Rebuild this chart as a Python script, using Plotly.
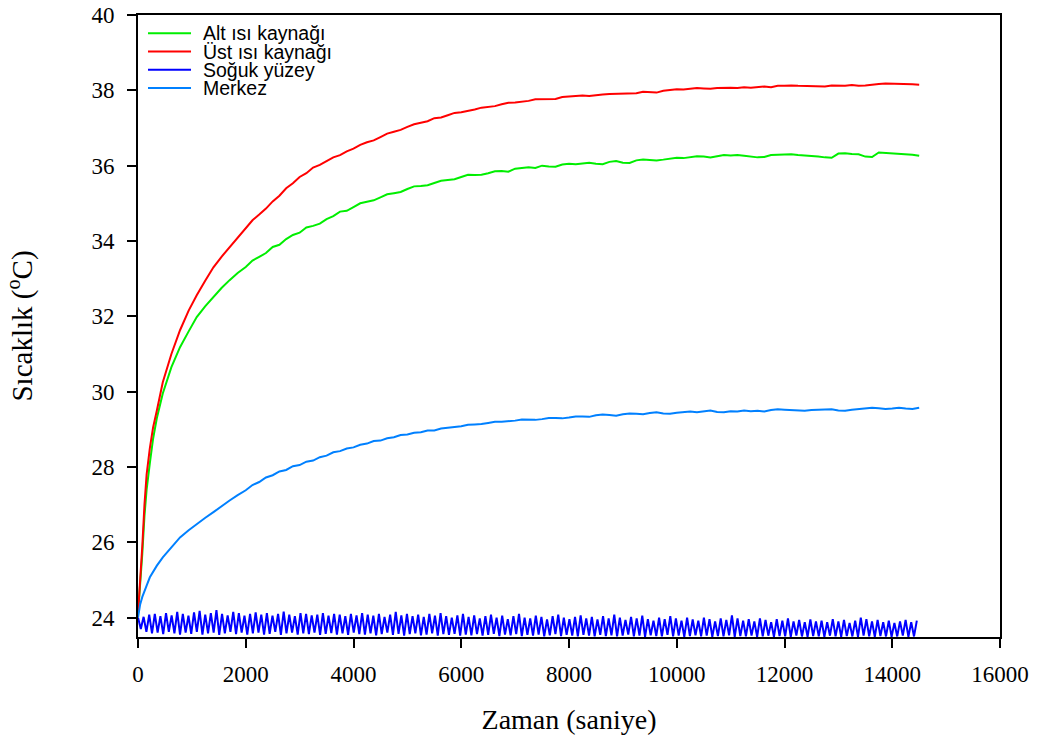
import plotly.graph_objects as go

# ---------------- data ----------------
time_main = [0, 40, 80, 120, 160, 220, 280, 350, 460, 620, 780, 940, 1090, 1250,
             1400, 1550, 1700, 1850, 2000] + list(range(2125, 14501, 125))

alt_isi = [24.10, 24.80, 25.70, 26.70, 27.40, 28.10, 28.75, 29.30, 29.95, 30.65,
           31.18, 31.60, 31.98, 32.27, 32.51, 32.75, 32.96, 33.15, 33.31,
           33.48, 33.58, 33.68, 33.84, 33.90, 34.05, 34.16, 34.22,
           34.36, 34.40, 34.46, 34.58, 34.66, 34.78, 34.80, 34.90,
           35.00, 35.04, 35.08, 35.16, 35.24, 35.27, 35.30, 35.38,
           35.45, 35.46, 35.48, 35.54, 35.60, 35.62, 35.64, 35.70,
           35.76, 35.75, 35.76, 35.80, 35.85, 35.86, 35.84, 35.92,
           35.95, 35.96, 35.94, 36.00, 35.98, 35.97, 36.03, 36.05,
           36.04, 36.07, 36.08, 36.05, 36.04, 36.10, 36.12, 36.08,
           36.07, 36.14, 36.16, 36.15, 36.14, 36.16, 36.18, 36.21,
           36.20, 36.23, 36.25, 36.24, 36.22, 36.25, 36.28, 36.27,
           36.28, 36.26, 36.24, 36.22, 36.23, 36.28, 36.29, 36.29,
           36.30, 36.28, 36.27, 36.26, 36.24, 36.22, 36.21, 36.32,
           36.33, 36.31, 36.30, 36.24, 36.23, 36.35, 36.34, 36.33,
           36.33, 36.32, 36.29, 36.26]

ust_isi = [24.10, 24.90, 25.90, 27.00, 27.80, 28.50, 29.05, 29.50, 30.25, 31.00,
           31.63, 32.15, 32.56, 32.95, 33.30, 33.58, 33.84, 34.10, 34.33,
           34.55, 34.70, 34.86, 35.05, 35.20, 35.40, 35.53, 35.70,
           35.80, 35.95, 36.02, 36.12, 36.22, 36.28, 36.38, 36.45,
           36.55, 36.62, 36.67, 36.76, 36.85, 36.90, 36.95, 37.03,
           37.10, 37.14, 37.18, 37.26, 37.28, 37.34, 37.40, 37.42,
           37.45, 37.49, 37.54, 37.56, 37.58, 37.63, 37.67, 37.68,
           37.69, 37.72, 37.76, 37.76, 37.75, 37.77, 37.82, 37.84,
           37.84, 37.86, 37.85, 37.88, 37.89, 37.90, 37.90, 37.92,
           37.91, 37.92, 37.96, 37.95, 37.94, 37.99, 38.02, 38.03,
           38.02, 38.05, 38.06, 38.05, 38.04, 38.06, 38.07, 38.07,
           38.06, 38.08, 38.07, 38.09, 38.10, 38.08, 38.12, 38.12,
           38.13, 38.12, 38.11, 38.11, 38.09, 38.10, 38.13, 38.13,
           38.12, 38.14, 38.12, 38.13, 38.16, 38.17, 38.18, 38.18,
           38.16, 38.17, 38.16, 38.15]

merkez = [24.00, 24.35, 24.55, 24.72, 24.85, 25.07, 25.22, 25.38, 25.60, 25.88,
          26.13, 26.32, 26.49, 26.65, 26.80, 26.96, 27.11, 27.25, 27.38,
          27.52, 27.60, 27.72, 27.78, 27.88, 27.92, 28.02, 28.05,
          28.14, 28.17, 28.26, 28.30, 28.39, 28.42, 28.49, 28.52,
          28.59, 28.62, 28.69, 28.70, 28.76, 28.79, 28.85, 28.86,
          28.91, 28.92, 28.97, 28.97, 29.02, 29.03, 29.06, 29.08,
          29.12, 29.13, 29.14, 29.17, 29.20, 29.20, 29.21, 29.23,
          29.26, 29.25, 29.25, 29.27, 29.30, 29.30, 29.29, 29.31,
          29.34, 29.34, 29.33, 29.37, 29.39, 29.38, 29.36, 29.40,
          29.42, 29.41, 29.40, 29.43, 29.45, 29.42, 29.41, 29.44,
          29.46, 29.47, 29.45, 29.48, 29.50, 29.46, 29.45, 29.48,
          29.47, 29.50, 29.48, 29.49, 29.47, 29.51, 29.53, 29.52,
          29.51, 29.50, 29.49, 29.51, 29.52, 29.52, 29.53, 29.50,
          29.49, 29.52, 29.54, 29.55, 29.57, 29.56, 29.54, 29.55,
          29.57, 29.55, 29.54, 29.57]

# cold surface: alternating peak / trough readings
soguk_peaks = [24.00, 24.02, 24.08, 24.10, 24.04, 24.12, 24.06, 24.15, 24.10, 24.05,
               24.14, 24.18, 24.08, 24.12, 24.20, 24.10, 24.06, 24.15, 24.12, 24.05,
               24.10, 24.14, 24.08, 24.12, 24.05, 24.10, 24.16, 24.08, 24.04, 24.12,
               24.10, 24.06, 24.08, 24.12, 24.05, 24.10, 24.08, 24.04, 24.10, 24.06,
               24.12, 24.08, 24.05, 24.10, 24.02, 24.08, 24.15, 24.06, 24.10, 24.04,
               24.08, 24.02, 24.10, 24.05, 24.12, 24.04, 24.00, 24.06, 24.10, 24.02,
               24.06, 23.98, 24.04, 24.08, 24.00, 24.05, 23.96, 24.04, 24.10, 24.00,
               23.98, 24.05, 24.02, 23.95, 24.04, 24.08, 24.00, 23.96, 24.02, 24.06,
               23.98, 24.02, 23.95, 24.04, 23.98, 24.08, 24.00, 23.94, 24.02, 23.98,
               24.05, 23.96, 23.92, 24.00, 23.96, 24.04, 23.98, 23.92, 24.00, 23.95,
               23.92, 24.00, 23.96, 23.90, 23.98, 23.94, 24.06, 23.98, 23.92, 23.96,
               23.90, 23.98, 23.94, 23.88, 23.96, 23.92, 23.98, 23.90, 23.94, 23.88,
               23.95, 23.90, 23.92, 23.88, 23.96, 23.90, 23.94, 23.86, 23.92, 24.00,
               23.96, 23.90, 23.94, 23.88, 23.92, 23.86, 23.90, 23.94, 23.88, 23.92]

soguk_troughs = [23.70, 23.62, 23.58, 23.60, 23.56, 23.62, 23.58, 23.55, 23.60, 23.57,
                 23.62, 23.55, 23.58, 23.60, 23.54, 23.58, 23.62, 23.56, 23.60, 23.55,
                 23.58, 23.60, 23.55, 23.57, 23.62, 23.54, 23.58, 23.60, 23.55, 23.58,
                 23.56, 23.60, 23.54, 23.57, 23.59, 23.55, 23.58, 23.54, 23.60, 23.56,
                 23.55, 23.58, 23.53, 23.56, 23.60, 23.54, 23.57, 23.52, 23.56, 23.58,
                 23.53, 23.55, 23.58, 23.52, 23.56, 23.54, 23.57, 23.52, 23.55, 23.53,
                 23.56, 23.52, 23.54, 23.57, 23.51, 23.55, 23.53, 23.56, 23.51, 23.54,
                 23.52, 23.55, 23.50, 23.53, 23.56, 23.51, 23.54, 23.52, 23.50, 23.54,
                 23.52, 23.50, 23.54, 23.51, 23.53, 23.50, 23.52, 23.55, 23.50, 23.52,
                 23.49, 23.53, 23.51, 23.50, 23.54, 23.50, 23.52, 23.49, 23.51, 23.53,
                 23.50, 23.52, 23.49, 23.51, 23.50, 23.53, 23.49, 23.51, 23.50, 23.52,
                 23.49, 23.50, 23.52, 23.49, 23.51, 23.50, 23.49, 23.52, 23.50, 23.49,
                 23.51, 23.50, 23.49, 23.52, 23.50, 23.49, 23.51, 23.50, 23.49, 23.52,
                 23.50, 23.49, 23.51, 23.50, 23.49, 23.50, 23.52, 23.49, 23.50]

soguk = [v for pair in zip(soguk_peaks, soguk_troughs) for v in pair] + [soguk_peaks[-1]]
time_soguk = list(range(0, 52 * len(soguk), 52))

series_names = ["Alt ısı kaynağı", "Üst ısı kaynağı", "Soğuk yüzey", "Merkez"]
series_colors = ["#00EE00", "#FF0000", "#0000FF", "#0080FF"]
series_x = [time_main, time_main, time_soguk, time_main]
series_y = [alt_isi, ust_isi, soguk, merkez]

x_ticks = [0, 2000, 4000, 6000, 8000, 10000, 12000, 14000, 16000]
y_ticks = [24, 26, 28, 30, 32, 34, 36, 38, 40]

SERIF = "Liberation Serif, Times New Roman, serif"
SANS = "Liberation Sans, Arial, sans-serif"

fig = go.Figure()
for name, xs, ys, col in zip(series_names, series_x, series_y, series_colors):
    fig.add_trace(go.Scatter(x=xs, y=ys, mode="lines", name=name,
                             line=dict(color=col, width=2), showlegend=False))

# legend drawn compactly in the top-left corner of the plot
for i, (name, col) in enumerate(zip(series_names, series_colors)):
    yy = 0.9706 - i * 0.0293
    fig.add_shape(type="line", xref="paper", yref="paper",
                  x0=0.0116, x1=0.0615, y0=yy, y1=yy,
                  line=dict(color=col, width=2))
    fig.add_annotation(xref="paper", yref="paper", x=0.073, y=yy, text=name,
                       showarrow=False, xanchor="left", yanchor="middle",
                       font=dict(family=SANS, size=19.5, color="black"))

axis_common = dict(showline=True, linecolor="black", linewidth=2, mirror=True,
                   ticks="outside", ticklen=9, tickwidth=2, tickcolor="black",
                   showgrid=False, zeroline=False, automargin=False,
                   tickfont=dict(family=SERIF, size=23, color="black"))

fig.update_xaxes(range=[0, 16000], tickvals=x_ticks,
                 ticktext=[str(v) for v in x_ticks],
                 title=dict(text="Zaman (saniye)", font=dict(family=SERIF, size=28, color="black"),
                            standoff=24),
                 ticklabelstandoff=6, **axis_common)
fig.update_yaxes(range=[23.485, 40], tickvals=y_ticks,
                 ticktext=[str(v) for v in y_ticks],
                 title=dict(text="Sıcaklık (<sup>o</sup>C)", font=dict(family=SERIF, size=29, color="black"),
                            standoff=50),
                 ticklabelstandoff=8, **axis_common)

fig.update_layout(width=1038, height=745,
                  margin=dict(l=138, r=38, t=15, b=108),
                  paper_bgcolor="white", plot_bgcolor="white",
                  showlegend=False)

fig.write_html("out.html")
